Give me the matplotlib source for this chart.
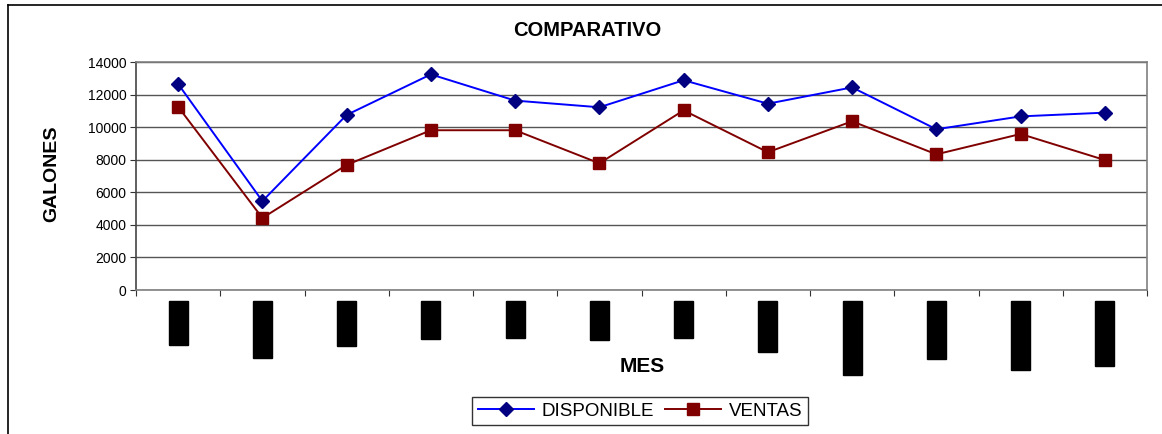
import matplotlib
matplotlib.use("Agg")
import matplotlib.pyplot as plt
from matplotlib.lines import Line2D

plt.rcParams['font.family'] = ['Liberation Sans', 'DejaVu Sans']

# datos mensuales (galones)
meses = ['ENERO', 'FEBRERO', 'MARZO', 'ABRIL', 'MAYO', 'JUNIO', 'JULIO',
         'AGOSTO', 'SEPTIEMBRE', 'OCTUBRE', 'NOVIEMBRE', 'DICIEMBRE']
disponible = [12650, 5460, 10750, 13240, 11630, 11220, 12880, 11440, 12440, 9870, 10660, 10890]
ventas = [11250, 4420, 7680, 9810, 9810, 7780, 11030, 8460, 10360, 8330, 9580, 7980]
y_ticks = [0, 2000, 4000, 6000, 8000, 10000, 12000, 14000]

fig = plt.figure(figsize=(11.62, 4.34), dpi=100)
W, H = 1162.0, 434.0
ax = fig.add_axes([136 / W, 1 - 290 / H, (1147 - 136) / W, (290 - 62) / H])

x = list(range(len(meses)))
ax.plot(x, disponible, color='#0000ff', lw=1.4, marker='D', ms=7.5,
        mfc='#000080', mec='#000080', label='DISPONIBLE', zorder=3)
ax.plot(x, ventas, color='#800000', lw=1.4, marker='s', ms=8,
        mfc='#800000', mec='#800000', label='VENTAS', zorder=3)

ax.set_xlim(-0.5, len(meses) - 0.5)
ax.set_ylim(0, 14000)
ax.set_yticks(y_ticks)
ax.set_yticklabels([str(v) for v in y_ticks], fontsize=10)
ax.yaxis.grid(True, color='#555555', lw=1.0)
ax.set_axisbelow(True)

# marcas entre categorias, nombres de mes centrados
ax.set_xticks([i - 0.5 for i in range(len(meses) + 1)])
ax.set_xticklabels([])
ax.set_xticks(x, minor=True)
ax.set_xticklabels(meses, minor=True, rotation=90, fontsize=7.2, color='black',
                   va='top', ha='center',
                   bbox=dict(facecolor='black', edgecolor='black', pad=3.2))
ax.tick_params(axis='x', which='minor', length=0, pad=11)
ax.tick_params(axis='x', which='major', length=4, color='#333333', direction='out')
ax.tick_params(axis='y', length=4, color='#333333', direction='out', pad=3)

for s in ['top', 'right', 'bottom']:
    ax.spines[s].set_color('#808080')
    ax.spines[s].set_linewidth(1.2)
ax.spines['left'].set_color('#444444')
ax.spines['left'].set_linewidth(1.2)

fig.text(587 / W, 1 - 31 / H, 'COMPARATIVO', fontsize=14.5, fontweight='bold',
         ha='center', va='center')
fig.text(52 / W, 1 - 174 / H, 'GALONES', fontsize=14, fontweight='bold',
         rotation=90, ha='center', va='center')
fig.text(642 / W, 1 - 366 / H, 'MES', fontsize=15, fontweight='bold',
         ha='center', va='center')

leg = fig.legend(loc='center', bbox_to_anchor=(640 / W, 1 - 411 / H), ncol=2,
                 fontsize=13.5, frameon=True, fancybox=False, edgecolor='black',
                 handlelength=3.0, handletextpad=0.4, columnspacing=0.6,
                 borderpad=0.3, borderaxespad=0)
leg.get_frame().set_linewidth(1.0)

# marco exterior del grafico
fig.add_artist(Line2D([8 / W, 8 / W], [0, 1 - 5 / H], color='black', lw=1.2))
fig.add_artist(Line2D([8 / W, 1], [1 - 5 / H, 1 - 5 / H], color='black', lw=1.2))

fig.savefig('out.png', dpi=100)
